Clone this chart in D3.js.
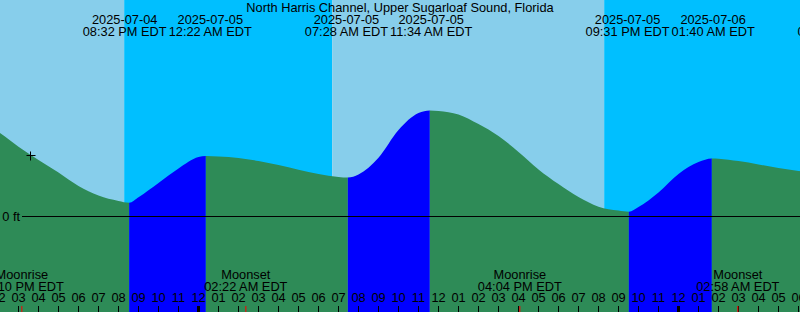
<!DOCTYPE html>
<html>
<head>
<meta charset="utf-8">
<script src="https://cdn.jsdelivr.net/npm/d3@7"></script>
<style>
    html, body {margin: 0; padding: 0; background: #fff;}
    svg {display: block; font-family: "Liberation Sans", Arial, sans-serif; font-size: 12.8px;}
</style>
</head>
<body>
<div id="chart"></div>
<script>
const width = 800,
    height = 312;

const title = "North Harris Channel, Upper Sugarloaf Sound, Florida";

// visible time window (local EDT), 20 px per hour
const startTime = "2025-07-04T14:04:30",
    endTime = "2025-07-06T06:04:30";

// tide extremes
const tideTimes = ["2025-07-04T20:32:00", "2025-07-05T00:22:00", "2025-07-05T07:28:00", "2025-07-05T11:34:00",
    "2025-07-05T21:31:00", "2025-07-06T01:40:00", "2025-07-06T08:02:00"];
const tideKinds = ["low", "high", "low", "high", "low", "high", "low"];
const tideFeet = [0.055, 0.25, 0.16, 0.44, 0.018, 0.24, 0.17];

// curve heights read every hour, from 2025-07-04 13:00
const hourStart = "2025-07-04T13:00:00";
const hourlyFeet = [
    0.39, 0.35, 0.289, 0.233, 0.181, 0.125, 0.085, 0.0625, 0.078, 0.1375, 0.198,
    0.246, 0.248, 0.242, 0.229, 0.2125, 0.193, 0.175, 0.1625, 0.173, 0.2425, 0.358, 0.429,
    0.438, 0.423, 0.383, 0.333, 0.267, 0.194, 0.133, 0.079, 0.039, 0.023, 0.0375, 0.098,
    0.175, 0.225, 0.239, 0.229, 0.215, 0.2, 0.1875, 0.175
];

// sun: decides day / night background
const sunTimes = ["2025-07-04T20:17:00", "2025-07-05T06:41:00", "2025-07-05T20:17:00"];
const sunKinds = ["set", "rise", "set"];

// moon
const moonTimes = ["2025-07-04T15:10:00", "2025-07-05T02:22:00", "2025-07-05T16:04:00", "2025-07-06T02:58:00"];
const moonKinds = ["Moonrise", "Moonset", "Moonrise", "Moonset"];

// current time mark
const nowTime = "2025-07-04T15:35:00",
    nowFeet = 0.256;

const depthLines = [0];

const colors = {day: "#87ceeb", night: "#00bfff", rising: "#0000ff", falling: "#2e8b57"};

const parse = d3.timeParse("%Y-%m-%dT%H:%M:%S"),
    fmtDate = d3.timeFormat("%Y-%m-%d"),
    fmtTime = d3.timeFormat("%I:%M %p EDT"),
    fmtHour = d3.timeFormat("%I");

const t0 = parse(startTime),
    t1 = parse(endTime);

const x = d3.scaleTime().domain([t0, t1]).range([0, width]);
const y = d3.scaleLinear().domain([-0.4, 0.9]).range([height, 0]);

const svg = d3.select("#chart")
    .append("svg")
    .attr("width", width)
    .attr("height", height);

// day / night background
const sunBounds = [t0, ...sunTimes.map(parse), t1];
const bg = [];
for (let i = 0; i < sunBounds.length - 1; i++) {
    const next = sunKinds[i];
    const isDay = next ? next === "set" : sunKinds[sunKinds.length - 1] === "rise";
    bg.push({a: sunBounds[i], b: sunBounds[i + 1], color: isDay ? colors.day : colors.night});
}
svg.append("g")
    .selectAll("rect")
    .data(bg)
    .enter().append("rect")
    .attr("x", d => x(d.a))
    .attr("y", 0)
    .attr("width", d => x(d.b) - x(d.a))
    .attr("height", height)
    .attr("fill", d => d.color);

// tide curve
const h0 = parse(hourStart);
const points = hourlyFeet.map((h, i) => ({t: d3.timeHour.offset(h0, i), h}))
    .concat(tideTimes.map((s, i) => ({t: parse(s), h: tideFeet[i]})))
    .sort((a, b) => a.t - b.t);

const area = d3.area()
    .x(d => x(d.t))
    .y0(height)
    .y1(d => y(d.h))
    .curve(d3.curveMonotoneX);

svg.append("clipPath")
    .attr("id", "tideClip")
    .append("path")
    .attr("d", area(points));

const tideBounds = [t0, ...tideTimes.map(parse), t1];
const bands = [];
for (let i = 0; i < tideBounds.length - 1; i++) {
    const k = tideKinds[i];
    const rising = k ? k === "high" : tideKinds[tideKinds.length - 1] === "low";
    bands.push({a: tideBounds[i], b: tideBounds[i + 1], color: rising ? colors.rising : colors.falling});
}
svg.append("g")
    .attr("clip-path", "url(#tideClip)")
    .selectAll("rect")
    .data(bands)
    .enter().append("rect")
    .attr("x", d => x(d.a))
    .attr("y", 0)
    .attr("width", d => x(d.b) - x(d.a))
    .attr("height", height)
    .attr("fill", d => d.color);

// depth lines
const depth = svg.append("g").selectAll("g").data(depthLines).enter().append("g");
depth.append("line")
    .attr("x1", 22).attr("x2", width)
    .attr("y1", d => Math.round(y(d)) + 0.5)
    .attr("y2", d => Math.round(y(d)) + 0.5)
    .attr("stroke", "#000");
depth.append("text")
    .attr("x", 20)
    .attr("y", d => y(d) + 4.5)
    .attr("text-anchor", "end")
    .text(d => d + " ft");

// now mark
const nx = Math.round(x(parse(nowTime))) + 0.5,
    ny = Math.round(y(nowFeet)) + 0.5;
svg.append("path")
    .attr("d", `M${nx - 4},${ny}H${nx + 5}M${nx},${ny - 4}V${ny + 5}`)
    .attr("stroke", "#000")
    .attr("fill", "none");

// title
svg.append("text")
    .attr("x", width / 2)
    .attr("y", 12)
    .attr("text-anchor", "middle")
    .text(title);

// tide event labels, pushed apart when they collide
const tLabels = svg.append("g")
    .selectAll("g")
    .data(tideTimes.map(parse))
    .enter().append("g");
tLabels.append("text").attr("y", 24).attr("text-anchor", "middle").text(d => fmtDate(d));
tLabels.append("text").attr("y", 36).attr("text-anchor", "middle").text(d => fmtTime(d));

const boxes = [];
tLabels.each(function (d) {
    let w = 0;
    d3.select(this).selectAll("text").each(function () {
        w = Math.max(w, this.getComputedTextLength());
    });
    boxes.push({c: x(d), w});
});
for (let pass = 0; pass < 10; pass++) {
    for (let i = 0; i < boxes.length - 1; i++) {
        const need = (boxes[i].w + boxes[i + 1].w) / 2 + 2,
            gap = boxes[i + 1].c - boxes[i].c;
        if (gap < need) {
            boxes[i].c -= (need - gap) / 2;
            boxes[i + 1].c += (need - gap) / 2;
        }
    }
}
tLabels.attr("transform", (d, i) => "translate(" + boxes[i].c + ",0)");

// hour ticks (the first one sits just left of the edge, its label is half cut)
const hours = d3.timeHour.range(d3.timeHour.floor(t0), t1);
const ticks = svg.append("g");
ticks.selectAll("rect")
    .data(hours)
    .enter().append("rect")
    .attr("x", d => d.getHours() === 0 ? x(d) - 1.5 : x(d) - 0.5)
    .attr("y", 306)
    .attr("width", d => d.getHours() === 0 ? 3 : 1)
    .attr("height", 6)
    .attr("fill", "#000");
ticks.selectAll("text")
    .data(hours)
    .enter().append("text")
    .attr("x", d => x(d))
    .attr("y", 301.5)
    .attr("text-anchor", "middle")
    .text(d => fmtHour(d));

// moon events
const moon = svg.append("g")
    .selectAll("g")
    .data(moonTimes.map(parse))
    .enter().append("g")
    .attr("transform", d => "translate(" + x(d) + ",0)");
moon.append("rect")
    .attr("x", -0.5).attr("y", 306)
    .attr("width", 1).attr("height", 6)
    .attr("fill", "#ff0000");
moon.append("text").attr("y", 278.5).attr("text-anchor", "middle").text((d, i) => moonKinds[i]);
moon.append("text").attr("y", 290.5).attr("text-anchor", "middle").text(d => fmtTime(d));
</script>
</body>
</html>
